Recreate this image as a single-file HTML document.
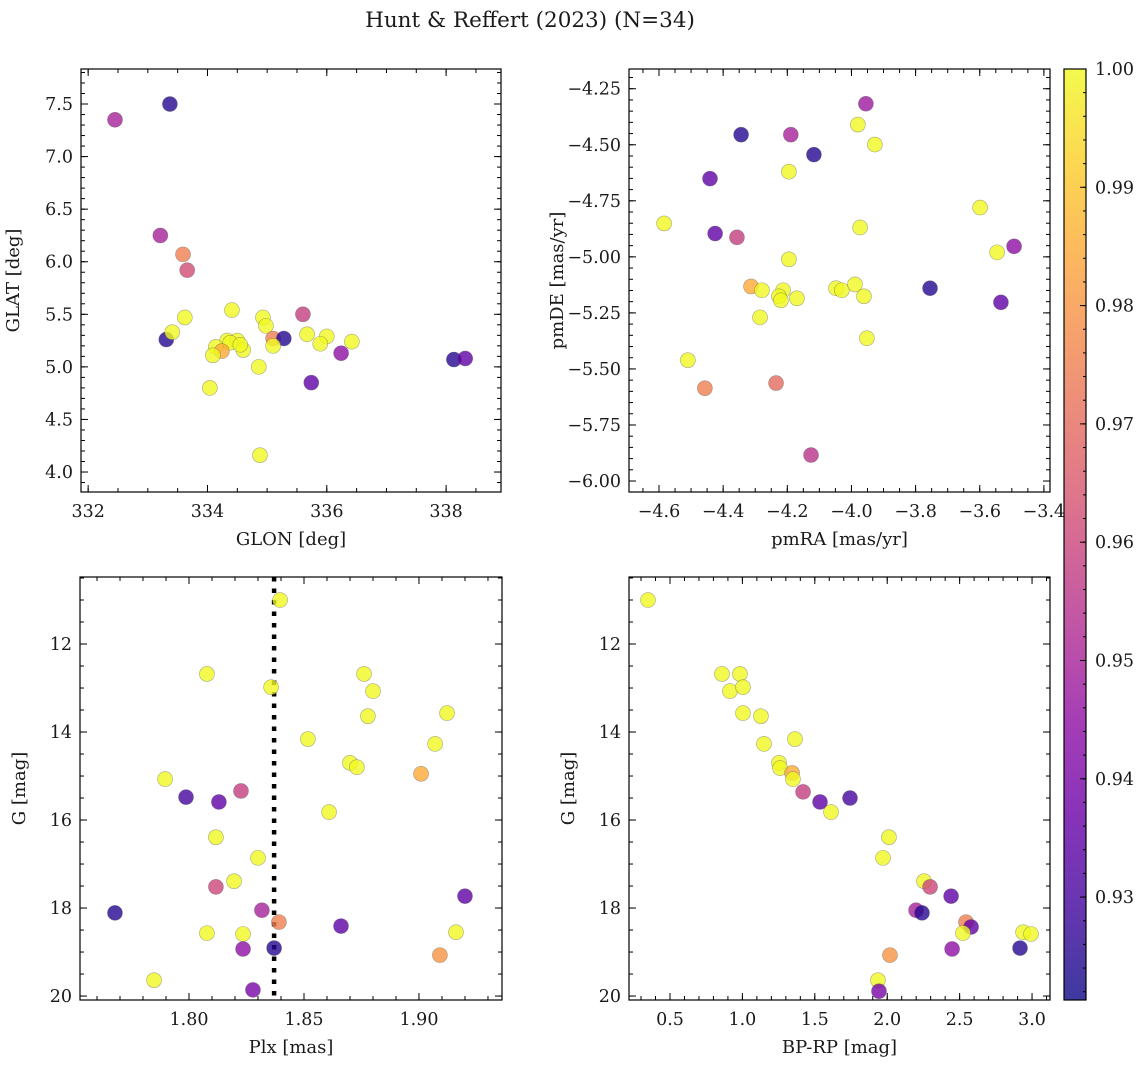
<!DOCTYPE html>
<html><head><meta charset="utf-8"><style>
body{margin:0;background:#fff;}
svg text{font-family:"DejaVu Serif","Liberation Serif",serif;fill:#1a1a1a;}
</style></head><body>
<svg id="fig" width="1148" height="1068" viewBox="0 0 1148 1068" xmlns="http://www.w3.org/2000/svg">
<text x="530" y="27" font-size="21.5" text-anchor="middle">Hunt &amp; Reffert (2023) (N=34)</text>
</svg>
<script>
// Panel 1: GLON / GLAT
const glon = [332.45,333.37,333.21,333.59,333.66,333.31,333.41,333.62,334.41,334.93,334.98,335.60,335.10,335.28,335.10,335.67,336.00,335.89,336.42,336.24,335.74,334.86,334.04,334.33,334.50,334.38,334.14,334.24,334.09,334.60,334.88,338.13,338.32,334.55];
const glat = [7.35,7.50,6.25,6.07,5.92,5.26,5.33,5.47,5.54,5.47,5.39,5.50,5.27,5.27,5.20,5.31,5.29,5.22,5.24,5.13,4.85,5.00,4.80,5.25,5.25,5.23,5.19,5.15,5.11,5.16,4.16,5.07,5.08,5.21];
const prob1 = [0.950,0.925,0.950,0.975,0.962,0.925,1,1,1,1,1,0.958,0.975,0.925,1,1,1,1,1,0.945,0.935,1,1,1,1,1,1,0.985,1,1,1,0.925,0.935,1];
// Panel 2: pmRA / pmDE
const pmra = [-3.955,-3.980,-3.927,-4.344,-4.189,-4.117,-4.441,-4.195,-4.584,-4.425,-4.357,-3.973,-3.599,-3.493,-3.546,-4.195,-4.313,-4.279,-4.213,-4.226,-4.220,-4.170,-4.048,-4.030,-3.989,-3.961,-3.755,-3.534,-4.285,-3.952,-4.510,-4.457,-4.235,-4.126];
const pmde = [-4.317,-4.410,-4.499,-4.455,-4.455,-4.544,-4.651,-4.620,-4.851,-4.896,-4.913,-4.869,-4.780,-4.953,-4.980,-5.011,-5.132,-5.149,-5.149,-5.176,-5.194,-5.185,-5.140,-5.149,-5.123,-5.176,-5.140,-5.203,-5.270,-5.363,-5.461,-5.586,-5.563,-5.884];
const prob2 = [0.948,1,1,0.925,0.950,0.925,0.935,1,1,0.935,0.958,1,1,0.945,1,1,0.985,1,1,1,1,1,1,1,1,1,0.925,0.935,1,1,1,0.975,0.970,0.955];
// Panel 3: Plx / G
const plx = [1.8396,1.8078,1.8357,1.8761,1.8800,1.8778,1.9122,1.8517,1.9070,1.8700,1.8730,1.9009,1.7896,1.8226,1.7987,1.8130,1.8609,1.8117,1.8300,1.8196,1.8117,1.9200,1.7678,1.8317,1.8391,1.8661,1.8078,1.8235,1.9161,1.8235,1.8370,1.9091,1.7848,1.8278];
const gmag3 = [11.00,12.68,12.98,12.68,13.07,13.64,13.57,14.16,14.27,14.70,14.80,14.95,15.07,15.34,15.48,15.59,15.82,16.39,16.86,17.39,17.52,17.73,18.11,18.05,18.32,18.41,18.57,18.59,18.55,18.93,18.91,19.07,19.64,19.86];
const prob3 = [1,1,1,1,1,1,1,1,1,1,1,0.985,1,0.958,0.930,0.935,1,1,1,1,0.960,0.935,0.925,0.950,0.975,0.935,1,1,1,0.945,0.925,0.980,1,0.940];
const plxRef = [1.837];
// Panel 4: BP-RP / G
const bprp = [0.348,0.859,0.983,0.914,1.004,1.004,1.128,1.149,1.363,1.253,1.260,1.343,1.349,1.419,1.536,1.743,1.612,2.012,1.971,2.254,2.296,2.441,2.199,2.240,2.544,2.579,2.523,2.938,2.993,2.448,2.917,2.019,1.936,1.943];
const gmag4 = [11.00,12.68,12.68,13.07,12.98,13.57,13.64,14.27,14.16,14.70,14.82,14.93,15.07,15.36,15.59,15.50,15.82,16.39,16.86,17.39,17.52,17.73,18.05,18.11,18.32,18.43,18.57,18.55,18.59,18.93,18.91,19.07,19.64,19.89];
const prob4 = [1,1,1,1,1,1,1,1,1,1,1,0.985,1,0.958,0.935,0.930,1,1,1,1,0.960,0.935,0.950,0.925,0.975,0.935,1,1,1,0.945,0.925,0.980,1,0.940];
// Colorbar ticks
const cbTicks = [0.93,0.94,0.95,0.96,0.97,0.98,0.99,1.00];

const NS="http://www.w3.org/2000/svg";
const svg=document.getElementById('fig');
function mk(tag,attrs,parent){const e=document.createElementNS(NS,tag);for(const k in attrs)e.setAttribute(k,attrs[k]);(parent||svg).appendChild(e);return e;}
const stops=[[13,8,135],[65,4,157],[106,0,168],[143,13,164],[177,42,144],[204,71,120],[225,100,98],[242,132,75],[252,166,54],[252,206,37],[240,249,33]];
const cMin=0.9213,cMax=1.0;
function plasma(v){let t=(v-cMin)/(cMax-cMin);t=Math.max(0,Math.min(1,t));const p=t*10,i=Math.min(9,Math.floor(p)),f=p-i;const a=stops[i],b=stops[i+1];
 return 'rgb('+[0,1,2].map(k=>Math.round(a[k]+(b[k]-a[k])*f)).join(',')+')';}
function fmt(v,d){return (v<0?'\u2212':'')+Math.abs(v).toFixed(d);}
const TF=17.5, AF=18;

function panel(o){
 const g=mk('g',{});
 
 
 const X=v=>o.x0+(v-o.xd[0])/(o.xd[1]-o.xd[0])*(o.x1-o.x0);
 const Y=o.yinv?(v=>o.y0+(v-o.yd[0])/(o.yd[1]-o.yd[0])*(o.y1-o.y0)):(v=>o.y1-(v-o.yd[0])/(o.yd[1]-o.yd[0])*(o.y1-o.y0));
 const eps=1e-9;
 function ticksX(step,len){const s=Math.ceil((o.xd[0]-eps)/step);for(let k=s;k*step<=o.xd[1]+eps;k++){const x=X(k*step);
  mk('line',{x1:x,x2:x,y1:o.y1,y2:o.y1-len,stroke:'#000','stroke-width':1},g);mk('line',{x1:x,x2:x,y1:o.y0,y2:o.y0+len,stroke:'#000','stroke-width':1},g);}}
 function ticksY(step,len){const s=Math.ceil((Math.min(...o.yd)-eps)/step);for(let k=s;k*step<=Math.max(...o.yd)+eps;k++){const y=Y(k*step);
  mk('line',{x1:o.x0,x2:o.x0+len,y1:y,y2:y,stroke:'#000','stroke-width':1},g);mk('line',{x1:o.x1,x2:o.x1-len,y1:y,y2:y,stroke:'#000','stroke-width':1},g);}}
 ticksX(o.xminor,4);ticksX(o.xmajor,7);ticksY(o.yminor,4);ticksY(o.ymajor,7);
 o.xlabels.forEach(v=>{const t=mk('text',{x:X(v),y:o.y1+25,'font-size':TF,'text-anchor':'middle'},g);t.textContent=fmt(v,o.xdec);
  });
 o.ylabels.forEach(v=>{const t=mk('text',{x:o.x0-8,y:Y(v)+6,'font-size':TF,'text-anchor':'end'},g);t.textContent=fmt(v,o.ydec);
  });
 const xt=mk('text',{x:(o.x0+o.x1)/2,y:o.y1+53,'font-size':AF,'text-anchor':'middle'},g);xt.textContent=o.xtitle;
 
 const yc=(o.y0+o.y1)/2;const yt=mk('text',{x:o.ytx,y:yc,'font-size':AF,'text-anchor':'middle',transform:'rotate(-90 '+o.ytx+' '+yc+')'},g);yt.textContent=o.ytitle;
 
 if(o.vline){o.vline.forEach(v=>{const l=mk('line',{x1:X(v),x2:X(v),y1:o.y0,y2:o.y1,stroke:'#000','stroke-width':4.5,'stroke-dasharray':'4.5 7'},g);
  });}
 for(let i=0;i<o.xs.length;i++){const c=mk('circle',{cx:X(o.xs[i]),cy:Y(o.ys[i]),r:7.5,fill:plasma(o.ps[i]),'fill-opacity':0.8,stroke:'#555','stroke-opacity':0.5,'stroke-width':0.6},g);
  }
 const fr=mk('rect',{x:o.x0,y:o.y0,width:o.x1-o.x0,height:o.y1-o.y0,fill:'none',stroke:'#000','stroke-width':1.2},g);
 
}
panel({name:'glon-glat-panel',x0:81,x1:501,y0:69,y1:492,xd:[331.88,338.92],yd:[3.81,7.833],xmajor:2,xminor:0.5,ymajor:0.5,yminor:0.1,
 xlabels:[332,334,336,338],ylabels:[4.0,4.5,5.0,5.5,6.0,6.5,7.0,7.5],xdec:0,ydec:1,xtitle:'GLON [deg]',ytitle:'GLAT [deg]',ytx:19,xs:glon,ys:glat,ps:prob1});
panel({name:'pm-panel',x0:629,x1:1050,y0:69,y1:492,xd:[-4.6935,-3.381],yd:[-6.049,-4.162],xmajor:0.2,xminor:0.05,ymajor:0.25,yminor:0.05,
 xlabels:[-4.6,-4.4,-4.2,-4.0,-3.8,-3.6,-3.4],ylabels:[-6.0,-5.75,-5.5,-5.25,-5.0,-4.75,-4.5,-4.25],xdec:1,ydec:2,xtitle:'pmRA [mas/yr]',ytitle:'pmDE [mas/yr]',ytx:563,xs:pmra,ys:pmde,ps:prob2});
panel({name:'plx-g-panel',x0:80,x1:502,y0:577,y1:1000,xd:[1.7526,1.9361],yd:[10.477,20.09],yinv:true,xmajor:0.05,xminor:0.01,ymajor:2,yminor:0.5,
 xlabels:[1.80,1.85,1.90],ylabels:[12,14,16,18,20],xdec:2,ydec:0,xtitle:'Plx [mas]',ytitle:'G [mag]',ytx:25,xs:plx,ys:gmag3,ps:prob3,vline:plxRef});
panel({name:'cmd-panel',x0:629,x1:1050,y0:577,y1:1000,xd:[0.217,3.124],yd:[10.477,20.09],yinv:true,xmajor:0.5,xminor:0.1,ymajor:2,yminor:0.5,
 xlabels:[0.5,1.0,1.5,2.0,2.5,3.0],ylabels:[12,14,16,18,20],xdec:1,ydec:0,xtitle:'BP-RP [mag]',ytitle:'G [mag]',ytx:574,xs:bprp,ys:gmag4,ps:prob4});

// colorbar
const cb=mk('g',{});


const cbx=1064,cbw=22,cby0=69,cby1=1000;
const defs=mk('defs',{},cb);const lg=mk('linearGradient',{id:'cbg',x1:0,y1:1,x2:0,y2:0},defs);
for(let i=0;i<=20;i++){const v=cMin+(cMax-cMin)*i/20;mk('stop',{offset:(i/20),'stop-color':plasma(v)},lg);}
mk('rect',{x:cbx,y:cby0,width:cbw,height:cby1-cby0,fill:'url(#cbg)','fill-opacity':0.8},cb);
const CY=v=>cby1-(v-cMin)/(cMax-cMin)*(cby1-cby0);
for(let k=Math.ceil(cMin/0.002);k*0.002<=cMax+1e-9;k++){const y=CY(k*0.002);mk('line',{x1:cbx+cbw,x2:cbx+cbw-3,y1:y,y2:y,stroke:'#000','stroke-width':1},cb);}
cbTicks.forEach(v=>{const y=CY(v);mk('line',{x1:cbx+cbw,x2:cbx+cbw-6,y1:y,y2:y,stroke:'#000','stroke-width':1},cb);
 const t=mk('text',{x:cbx+cbw+9,y:y+6,'font-size':TF},cb);t.textContent=v.toFixed(2);
 });
mk('rect',{x:cbx,y:cby0,width:cbw,height:cby1-cby0,fill:'none',stroke:'#000','stroke-width':1.2},cb);
</script>
</body></html>
